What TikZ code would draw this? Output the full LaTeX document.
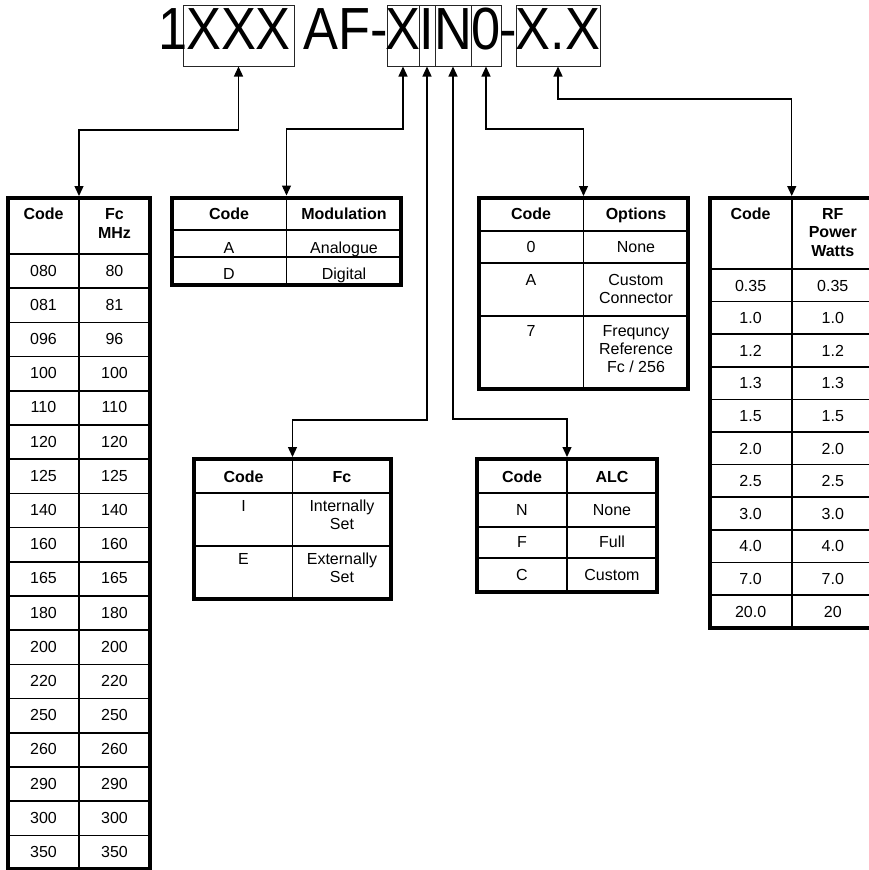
\documentclass[tikz,border=0pt]{standalone}
\usepackage{fontspec}
\setmainfont{Liberation Sans}
\newfontfamily\titlefont[FakeStretch=0.88]{Liberation Sans}
\usetikzlibrary{arrows.meta}
\begin{document}
\begin{tikzpicture}[x=1pt,y=-1pt,
  tbl/.style={draw, line width=4pt, inner sep=0pt, rectangle},
  grid/.style={line width=1.5pt},
  conn/.style={line width=1.3pt, {Triangle[length=10pt,width=9pt]}-{Triangle[length=10pt,width=9pt]}},
  tb/.style={draw=black!85, line width=1pt, inner sep=0pt, rectangle},
  ttl/.style={font=\titlefont\fontsize{59.5}{62}\selectfont, anchor=base, inner sep=0pt},
  cell/.style={font=\fontsize{16}{18}\selectfont, anchor=base, inner sep=0pt},
  hcell/.style={font=\fontsize{16}{18}\selectfont\bfseries, anchor=base, inner sep=0pt},
]
\useasboundingbox (0,0) rectangle (868,870);

% ---------- title ----------
\node[tb, minimum width=111pt, minimum height=61pt] (bxxx) at (238.5,35.5) {};
\node[tb, minimum width=32pt, minimum height=61pt] (bx) at (403,35.5) {};
\node[tb, minimum width=16pt, minimum height=61pt] (bi) at (427,35.5) {};
\node[tb, minimum width=36pt, minimum height=61pt] (bn) at (453,35.5) {};
\node[tb, minimum width=30pt, minimum height=61pt] (b0) at (486,35.5) {};
\node[tb, minimum width=84pt, minimum height=61pt] (bxx) at (558,35.5) {};
\node[ttl] (t1) at (173,49) {1};
\node[ttl] (txxx) at (238.5,49) {XXX};
\node[ttl] (taf) at (346,49) {AF-};
\node[ttl] (tx) at (403,49) {X};
\node[ttl] (ti) at (427,49) {I};
\node[ttl] (tn) at (453,49) {N};
\node[ttl] (t0) at (486,49) {0};
\node[ttl] (tdash) at (508.5,49) {-};
\node[ttl] (txx) at (558,49) {X.X};

% ---------- tables (outlines) ----------
\node[tbl, minimum width=142pt, minimum height=671pt] (tfreq) at (79,533.5) {};
\node[tbl, minimum width=229pt, minimum height=87.5pt] (tmod) at (286.5,241.25) {};
\node[tbl, minimum width=209pt, minimum height=190.5pt] (topt) at (583.5,293.25) {};
\node[tbl, minimum width=164.5pt, minimum height=430pt] (trf) at (791.75,413) {};
\node[tbl, minimum width=197pt, minimum height=140pt] (tfc) at (292.5,529) {};
\node[tbl, minimum width=180pt, minimum height=132.5pt] (talc) at (567,525.25) {};

% ---------- connectors ----------
\draw[conn] (bxxx.south) -- ++(0,63.5) -| (tfreq.north);
\draw[conn] (bx.south) -- ++(0,62.5) -| (tmod.north);
\draw[conn] (bi.south) -- ++(0,353.5) -| (tfc.north);
\draw[conn] (bn.south) -- ++(0,352.5) -| (talc.north);
\draw[conn] (b0.south) -- ++(0,62.5) -| (topt.north);
\draw[conn] (bxx.south) -- ++(0,32.5) -| (trf.north);

% ---------- frequency table ----------
\draw[grid] (tfreq.north) -- (tfreq.south);
\draw[grid] (8,254) -- (150,254);
\foreach \i in {1,...,17} \draw[grid] (8,{254+34.2*\i}) -- (150,{254+34.2*\i});
\node[hcell] (fh1) at (43.5,219) {Code};
\node[hcell] (fh2) at (114.5,219) {Fc};
\node[hcell] (fh3) at (114.5,238) {MHz};
\foreach \c/\v [count=\i from 0] in {080/80,081/81,096/96,100/100,110/110,120/120,125/125,140/140,160/160,165/165,180/180,200/200,220/220,250/250,260/260,290/290,300/300,350/350} {
  \node[cell] (fc\i) at (43.5,{276+34.2*\i}) {\c};
  \node[cell] (fv\i) at (114.5,{276+34.2*\i}) {\v};
}

% ---------- modulation table ----------
\draw[grid] (tmod.north) -- (tmod.south);
\draw[grid] (171.5,230) -- (400.5,230);
\draw[grid] (171.5,257) -- (400.5,257);
\node[hcell] (mh1) at (229,219) {Code};
\node[hcell] (mh2) at (344,219) {Modulation};
\node[cell] (mc1) at (229,253) {A};
\node[cell] (mv1) at (344,253) {Analogue};
\node[cell] (mc2) at (229,279) {D};
\node[cell] (mv2) at (344,279) {Digital};

% ---------- options table ----------
\draw[grid] (topt.north) -- (topt.south);
\foreach \yy in {231,263,316} \draw[grid] (479,\yy) -- (688,\yy);
\node[hcell] (oh1) at (531,219) {Code};
\node[hcell] (oh2) at (636,219) {Options};
\node[cell] (oc1) at (531,252) {0};
\node[cell] (ov1) at (636,252) {None};
\node[cell] (oc2) at (531,285) {A};
\node[cell] (ov2a) at (636,285) {Custom};
\node[cell] (ov2b) at (636,303) {Connector};
\node[cell] (oc3) at (531,336) {7};
\node[cell] (ov3a) at (636,336) {Frequncy};
\node[cell] (ov3b) at (636,354) {Reference};
\node[cell] (ov3c) at (636,372) {Fc / 256};

% ---------- RF power table ----------
\draw[grid] (trf.north) -- (trf.south);
\draw[grid] (709.5,269) -- (874,269);
\foreach \i in {1,...,10} \draw[grid] (709.5,{269+32.6*\i}) -- (874,{269+32.6*\i});
\node[hcell] (rh1) at (750.6,219) {Code};
\node[hcell] (rh2) at (832.8,219) {RF};
\node[hcell] (rh3) at (832.8,237.5) {Power};
\node[hcell] (rh4) at (832.8,256) {Watts};
\foreach \c/\v [count=\i from 0] in {0.35/0.35,1.0/1.0,1.2/1.2,1.3/1.3,1.5/1.5,2.0/2.0,2.5/2.5,3.0/3.0,4.0/4.0,7.0/7.0,20.0/20} {
  \node[cell] (rc\i) at (750.6,{291+32.6*\i}) {\c};
  \node[cell] (rv\i) at (832.8,{291+32.6*\i}) {\v};
}

% ---------- Fc table ----------
\draw[grid] (tfc.north) -- (tfc.south);
\draw[grid] (194,493) -- (391,493);
\draw[grid] (194,546) -- (391,546);
\node[hcell] (ch1) at (243.5,482) {Code};
\node[hcell] (ch2) at (342,482) {Fc};
\node[cell] (cc1) at (243.5,511) {I};
\node[cell] (cv1a) at (342,511) {Internally};
\node[cell] (cv1b) at (342,529) {Set};
\node[cell] (cc2) at (243.5,564) {E};
\node[cell] (cv2a) at (342,564) {Externally};
\node[cell] (cv2b) at (342,582) {Set};

% ---------- ALC table ----------
\draw[grid] (talc.north) -- (talc.south);
\foreach \yy in {493,527,558} \draw[grid] (477,\yy) -- (657,\yy);
\node[hcell] (ah1) at (522,482) {Code};
\node[hcell] (ah2) at (612,482) {ALC};
\node[cell] (ac1) at (522,515) {N};
\node[cell] (av1) at (612,515) {None};
\node[cell] (ac2) at (522,547) {F};
\node[cell] (av2) at (612,547) {Full};
\node[cell] (ac3) at (522,580) {C};
\node[cell] (av3) at (612,580) {Custom};
\end{tikzpicture}
\end{document}
